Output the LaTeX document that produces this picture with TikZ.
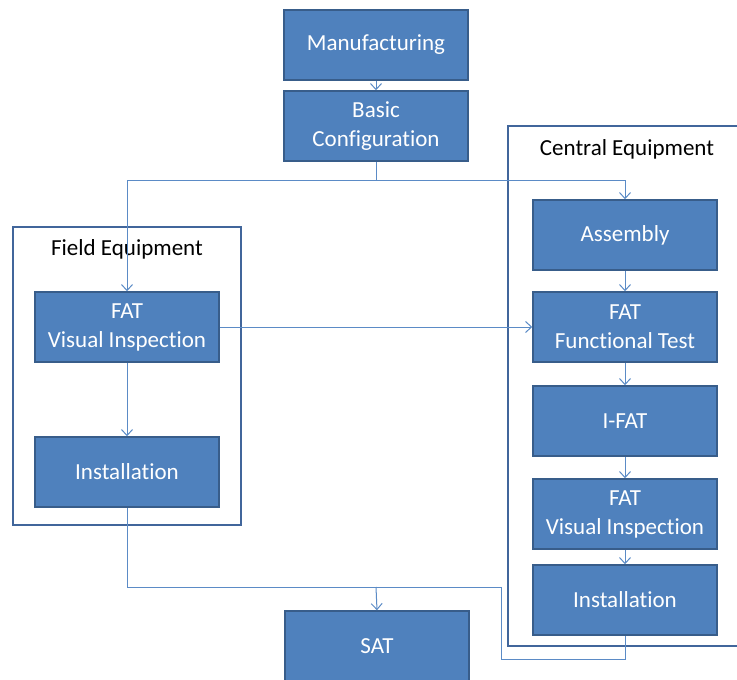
\documentclass[tikz,border=0pt]{standalone}
\usepackage{fontspec}
\setmainfont{Carlito}[Ligatures=NoCommon]
\usetikzlibrary{positioning,arrows.meta,calc}

\definecolor{boxfill}{HTML}{4F81BD}
\definecolor{boxline}{HTML}{385D8A}
\definecolor{frameline}{HTML}{41669B}
\definecolor{connline}{HTML}{5B8BC6}

\tikzset{
  stage/.style={draw=boxline, line width=1.5pt, fill=boxfill, text=white,
    minimum width=184pt, minimum height=70pt, inner sep=0pt, align=center,
    font=\fontsize{23}{29}\selectfont},
  group/.style={draw=frameline, line width=2.2pt},
  grouplabel/.style={font=\fontsize{23}{29}\selectfont},
  conn/.style={draw=connline, line width=1pt},
  flow/.style={conn, -{Straight Barb[length=6pt,width=11pt]}}
}

\begin{document}
\begin{tikzpicture}[x=1pt, y=-1pt]
      \clip (0,0) rectangle (737,680);

      % equipment frames
      \draw[group] (13,227) rectangle (241,525);
      \draw[group] (508,126) rectangle (760,646);
      \node[grouplabel] (fieldlbl) at (127,249) {Field Equipment};
      \node[grouplabel] (centrallbl) at (627,149) {Central Equipment};

      % top of the flow
      \node[stage] (manu) at (376,45) {Manufacturing};
      \node[stage] (basic) at (376,126) {Basic\\Configuration};

      % field side
      \node[stage] (fatvif) at (127,327) {FAT\\Visual Inspection};
      \node[stage] (instf) at (127,472) {Installation};

      % central side
      \node[stage] (assembly) at (625,235) {Assembly};
      \node[stage] (fatft) at (625,327) {FAT\\Functional Test};
      \node[stage] (ifat) at (625,421) {I-FAT};
      \node[stage] (fatvic) at (625,514) {FAT\\Visual Inspection};
      \node[stage] (instc) at (625,600) {Installation};

      \node[stage] (sat) at (377,646) {SAT};

      \coordinate (split) at (376,180);
      \coordinate (join) at (376,587);
      \coordinate (back) at (501,659);

      \draw[flow] (manu) -- (basic);
      \draw[conn] (basic.south) -- (split);
      \draw[flow] (split) -| (fatvif.north);
      \draw[flow] (split) -| (assembly.north);
      \draw[flow] (fatvif) -- (fatft);
      \draw[flow] (fatvif) -- (instf);
      \foreach \a/\b in {assembly/fatft, fatft/ifat, ifat/fatvic, fatvic/instc} {
        \draw[flow] (\a) -- (\b);
      };
      \draw[conn] (instf.south) |- (join);
      \draw[conn] (instc.south) |- (back) |- (join);
      \draw[flow] (join) -- (sat.north);
\end{tikzpicture}
\end{document}
